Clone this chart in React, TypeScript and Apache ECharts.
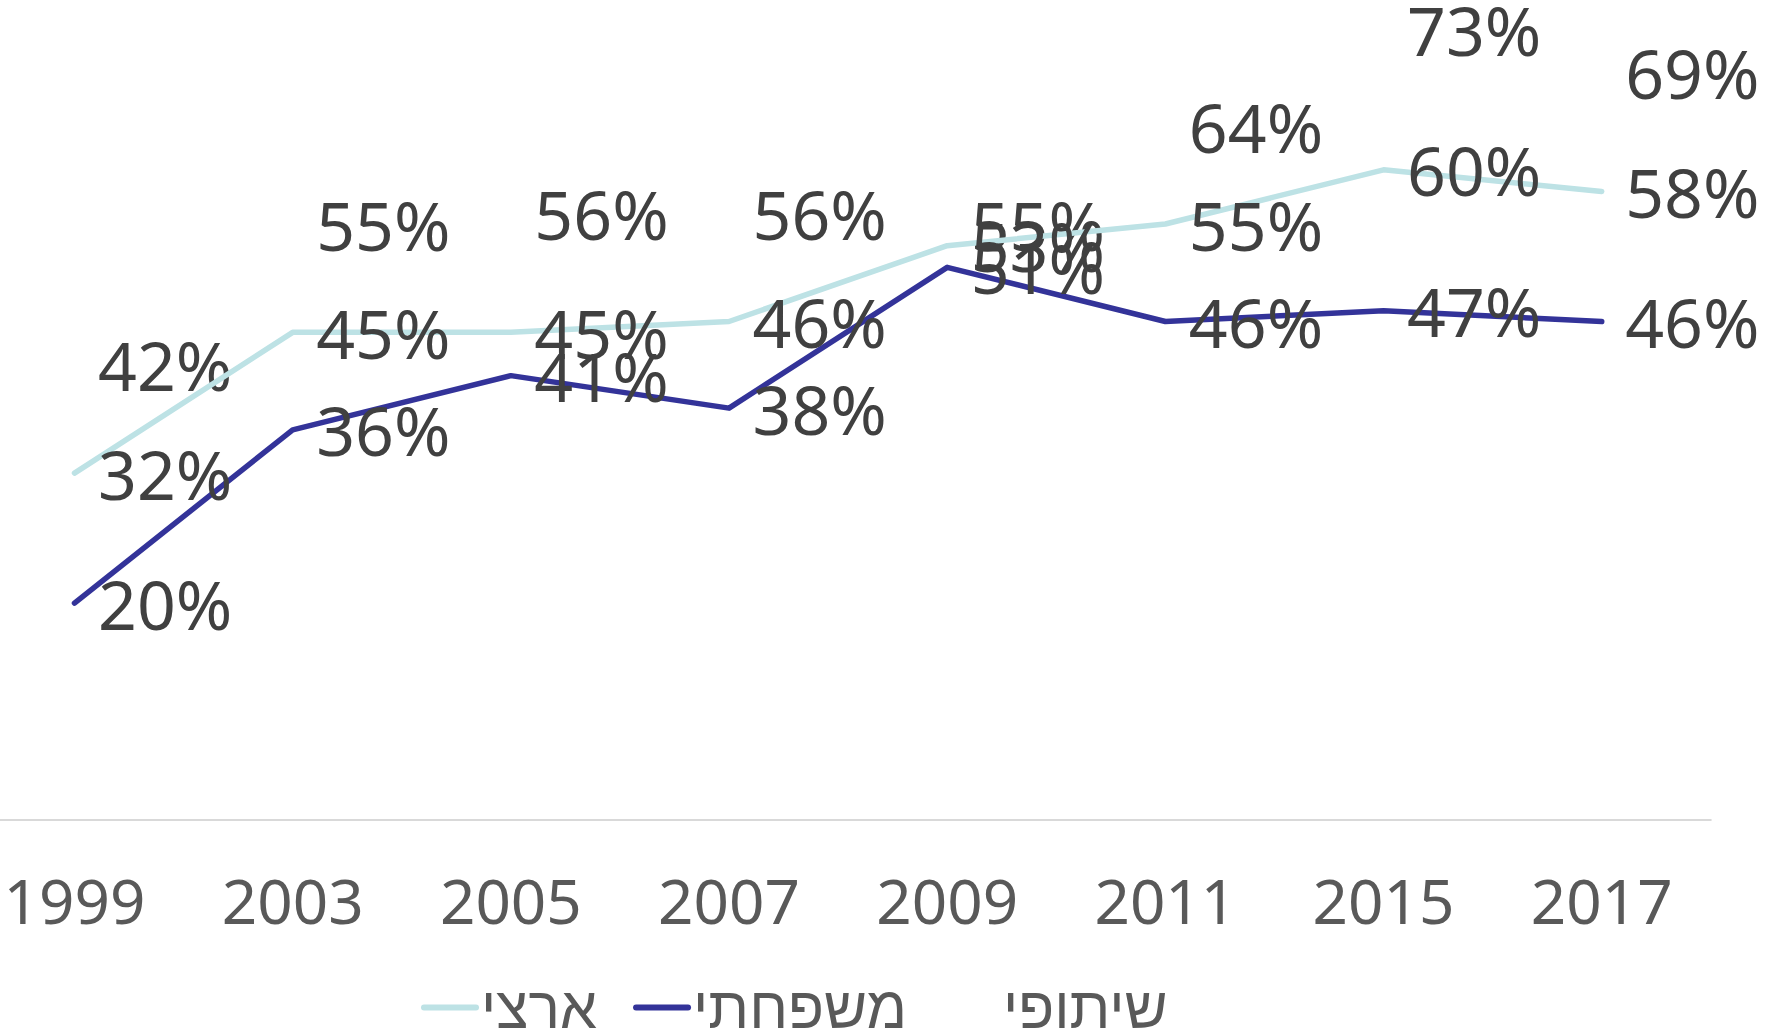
import React, { useEffect, useRef } from "react";
import * as echarts from "echarts";

const years = ["1999", "2003", "2005", "2007", "2009", "2011", "2015", "2017"];
const nationalValues = [32, 45, 45, 46, 53, 55, 60, 58]; // ארצי
const familyValues = [20, 36, 41, 38, 51, 46, 47, 46]; // משפחתי
const cooperativeValues = [42, 55, 56, 56, 55, 64, 73, 69]; // שיתופי
const seriesNames = ["ארצי", "משפחתי", "שיתופי"];
const seriesColors = ["#bde2e5", "#333399", "#ffffff"];

export default function App() {
  const ref = useRef<HTMLDivElement>(null);

  useEffect(() => {
    if (!ref.current) return;
    const chart = echarts.init(ref.current, undefined, { renderer: "svg" });

    const labelCfg = {
      show: true,
      position: "right",
      distance: 23,
      formatter: "{c}%",
      color: "#404040",
      fontSize: 68,
      fontFamily: "Noto Sans",
    };

    const allValues = [nationalValues, familyValues, cooperativeValues];

    const series = seriesNames.map((name, i) => ({
      name,
      type: "line",
      data: allValues[i],
      symbol: "circle",
      symbolSize: 1,
      showSymbol: true,
      itemStyle: { color: "rgba(0,0,0,0)", borderWidth: 0 },
      lineStyle: {
        color: seriesColors[i],
        width: 5.5,
        cap: "round",
        join: "round",
        opacity: i === 2 ? 0 : 1,
      },
      label: labelCfg,
      labelLayout: { hideOverlap: false },
      emphasis: { disabled: true },
      silent: true,
      z: i === 2 ? 1 : 2,
    }));

    chart.setOption({
      animation: false,
      backgroundColor: "#ffffff",
      grid: {
        left: -34.6,
        right: 57.2,
        top: 7.4,
        bottom: 213.3,
        containLabel: false,
        outerBoundsMode: "none",
      },
      xAxis: {
        type: "category",
        data: years,
        boundaryGap: true,
        axisLine: { lineStyle: { color: "#d9d9d9", width: 2 } },
        axisTick: { show: false },
        axisLabel: {
          interval: 0,
          margin: 49,
          fontSize: 62,
          color: "#595959",
          fontFamily: "Noto Sans",
          hideOverlap: false,
        },
        splitLine: { show: false },
      },
      yAxis: {
        type: "value",
        min: 0,
        max: 75,
        show: false,
        splitLine: { show: false },
      },
      legend: {
        data: seriesNames,
        left: 416,
        top: 973,
        padding: 5,
        itemWidth: 52,
        itemHeight: 14,
        itemGap: 36,
        textStyle: {
          fontSize: 59,
          lineHeight: 44,
          color: "#595959",
          fontFamily: "Liberation Sans",
        },
        lineStyle: { width: 6, cap: "round" },
        itemStyle: { borderWidth: 0 },
        selectedMode: false,
      },
      series,
    });

    return () => {
      chart.dispose();
    };
  }, []);

  return (
    <div
      ref={ref}
      style={{
        position: "fixed",
        left: 0,
        top: 0,
        width: "1768px",
        height: "1033px",
        background: "#ffffff",
      }}
    />
  );
}
